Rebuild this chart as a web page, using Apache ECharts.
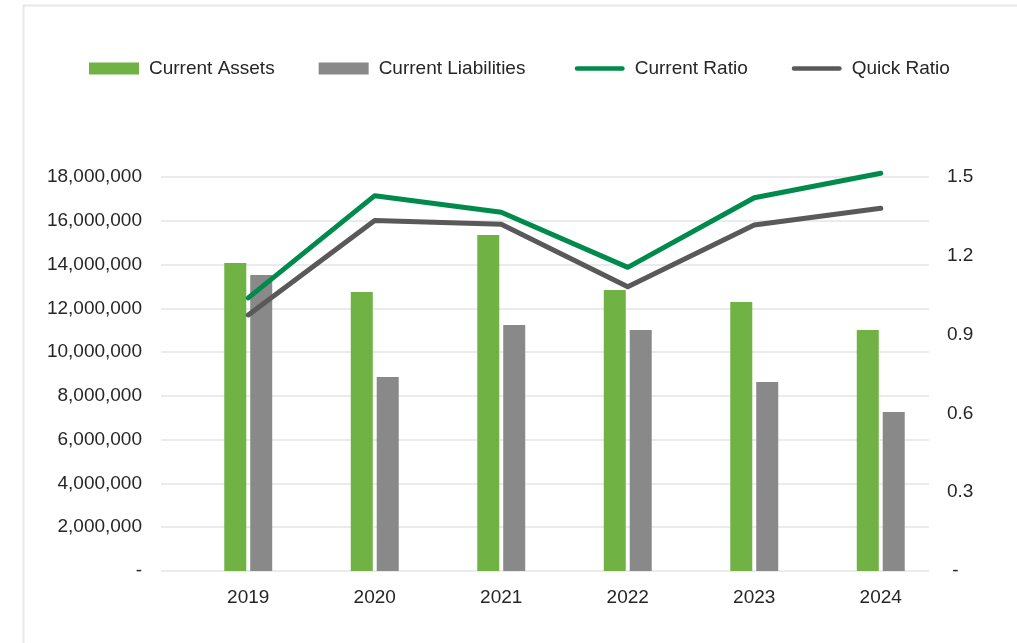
<!DOCTYPE html>
<html>
<head>
<meta charset="utf-8">
<script src="https://cdn.jsdelivr.net/npm/echarts@6/dist/echarts.min.js"></script>
<style>
html,body{margin:0;padding:0;background:#fff;}
#chart{width:1017px;height:643px;}
</style>
</head>
<body>
<div id="chart"></div>
<script>
const years = ['2019','2020','2021','2022','2023','2024'];
const currentAssets = [14070000, 12750000, 15350000, 12840000, 12290000, 11010000];
const currentLiabilities = [13520000, 8860000, 11240000, 11010000, 8630000, 7260000];
const currentRatio = [1.040, 1.429, 1.366, 1.156, 1.421, 1.514];
const quickRatio = [0.975, 1.334, 1.320, 1.082, 1.317, 1.381];
const seriesNames = ['Current Assets','Current Liabilities','Current Ratio','Quick Ratio'];

const FONT = "'Liberation Sans', Arial, Helvetica, sans-serif";
const TXT = '#262626';
const C_ASSETS = '#70b244', C_LIAB = '#898989', C_CR = '#008a4b', C_QR = '#595959';
const chart = echarts.init(document.getElementById('chart'));

const leftFmt = v => v === 0 ? '-' : v.toLocaleString('en-US');
const rightFmt = v => v === 0 ? ' -' : v.toFixed(1);
const lineIcon = 'path://M2.5,0 L50.5,0 A2.5,2.5 0 0 1 50.5,5 L2.5,5 A2.5,2.5 0 0 1 2.5,0 Z';

chart.setOption({
  animation: false,
  backgroundColor: '#fff',
  textStyle: {fontFamily: FONT},
  graphic: [
    {type:'line', shape:{x1:23, y1:5.5, x2:1017, y2:5.5}, style:{stroke:'#e8e8e8', lineWidth:2}},
    {type:'line', shape:{x1:23.5, y1:5, x2:23.5, y2:643}, style:{stroke:'#e8e8e8', lineWidth:2}}
  ],
  legend: {
    data: [
      {name: seriesNames[0], icon: 'rect', itemStyle:{color:C_ASSETS}},
      {name: seriesNames[1], icon: 'rect', itemStyle:{color:C_LIAB}},
      {name: seriesNames[2], icon: lineIcon, itemStyle:{color:C_CR}},
      {name: seriesNames[3], icon: lineIcon, itemStyle:{color:C_QR}}
    ],
    formatter: name => name === seriesNames[1] ? name + ' ' : name,
    left: 89, top: 59, padding: 0,
    itemWidth: 50, itemHeight: 12, itemGap: 44,
    textStyle: {fontSize: 19, color: TXT, fontFamily: FONT, padding:[0,0,0,5]}
  },
  grid: [
    {left: 161, right: 88, top: 177, bottom: 72},
    {left: 185, right: 73, top: 177, bottom: 72}
  ],
  xAxis: [
    {type:'category', gridIndex:0, data: years, show:false},
    {type:'category', gridIndex:1, data: years,
     axisLine:{show:false}, axisTick:{show:false},
     axisLabel:{fontSize:19, color:TXT, margin:17, fontFamily:FONT}}
  ],
  yAxis: [
    {type:'value', gridIndex:0, min:0, max:18000000, interval:2000000, position:'left',
     axisLine:{show:false}, axisTick:{show:false},
     axisLabel:{fontSize:19, color:TXT, margin:19, formatter:leftFmt, fontFamily:FONT},
     splitLine:{show:true, lineStyle:{color:'#e4e4e4', width:1.5}}},
    {type:'value', gridIndex:0, min:0, max:1.5, interval:0.3, position:'right',
     axisLine:{show:false}, axisTick:{show:false},
     axisLabel:{fontSize:19, color:TXT, margin:18, formatter:rightFmt, align:'left', fontFamily:FONT},
     splitLine:{show:false}},
    {type:'value', gridIndex:1, min:0, max:18000000, show:false, splitLine:{show:false}},
    {type:'value', gridIndex:1, min:0, max:1.5, show:false, splitLine:{show:false}}
  ],
  series: [
    {name:seriesNames[0], type:'bar', xAxisIndex:1, yAxisIndex:2, data:currentAssets,
     barWidth:22, barGap:'18%', itemStyle:{color:C_ASSETS}},
    {name:seriesNames[1], type:'bar', xAxisIndex:1, yAxisIndex:2, data:currentLiabilities,
     barWidth:22, barGap:'18%', itemStyle:{color:C_LIAB}},
    {name:seriesNames[2], type:'line', xAxisIndex:1, yAxisIndex:3, data:currentRatio,
     symbol:'none', clip:false, itemStyle:{color:C_CR},
     lineStyle:{color:C_CR, width:5, cap:'round', join:'round'}},
    {name:seriesNames[3], type:'line', xAxisIndex:1, yAxisIndex:3, data:quickRatio,
     symbol:'none', clip:false, itemStyle:{color:C_QR},
     lineStyle:{color:C_QR, width:5, cap:'round', join:'round'}}
  ]
});
</script>
</body>
</html>
